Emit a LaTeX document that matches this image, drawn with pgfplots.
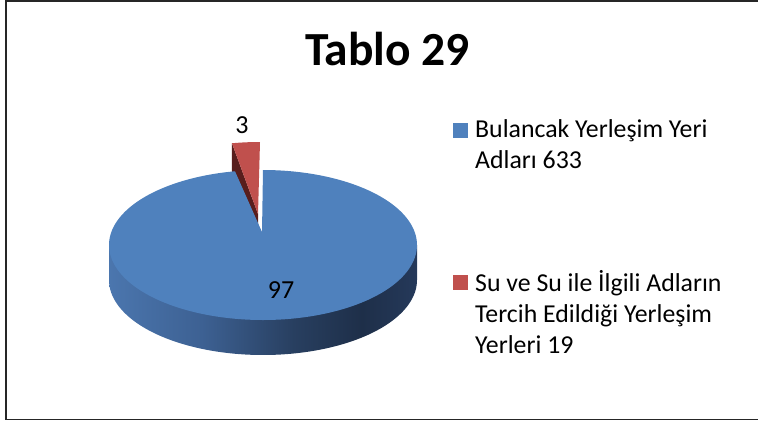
\documentclass[border=0pt]{standalone}
\usepackage{pgfplots}
\pgfplotsset{compat=1.18}
\usepackage{pgfplotstable}
\usepackage{fontspec}
\setmainfont{Carlito}
\definecolor{pieblue}{HTML}{4F81BD}
\definecolor{piered}{HTML}{C0504D}
\definecolor{redwall}{RGB}{88,30,29}
\definecolor{sA}{HTML}{4B76AE}
\definecolor{sB}{HTML}{3D6193}
\definecolor{sC}{HTML}{283F60}
\definecolor{sD}{HTML}{1E2F49}
\definecolor{sE}{HTML}{25395A}
\pgfdeclarehorizontalshading{sideshade}{100bp}{color(0bp)=(sA); color(25bp)=(sA); color(40bp)=(sB); color(55bp)=(sC); color(66bp)=(sD); color(75bp)=(sE); color(100bp)=(sE)}

\pgfplotstableread{
name value
Bulancak 633
Su 19
}\piedata

\begin{document}
\begin{tikzpicture}
\pgfplotstablegetelem{0}{value}\of\piedata \let\va\pgfplotsretval
\pgfplotstablegetelem{1}{value}\of\piedata \let\vb\pgfplotsretval
\pgfmathsetmacro\total{\va+\vb}
\pgfmathsetmacro\fa{\va/\total}
\pgfmathsetmacro\fb{\vb/\total}
\pgfmathsetmacro\redang{\fb*360}
\pgfmathsetmacro\splitang{90+\redang}
\pgfmathtruncatemacro\pa{round(100*\fa)}
\pgfmathtruncatemacro\pb{round(100*\fb)}
% red slice (exploded) geometry
\pgfmathsetmacro\ox{260+154*cos(\splitang)}
\pgfmathsetmacro\oy{217-75*sin(\splitang)}
\pgfmathsetmacro\oyb{\oy+35}
\begin{axis}[
  scale only axis, width=758pt, height=421pt,
  xmin=0, xmax=758, ymin=0, ymax=421, y dir=reverse,
  hide axis, clip=false,
]
% side of the blue slice
\addplot[forget plot, draw=none, shading=sideshade, domain=180:360, samples=150]
  ({263+154*cos(x)},{280-75*sin(x)}) -- (axis cs:417,245) -- (axis cs:109,245) -- cycle;
% red wall
\addplot[forget plot, draw=none, fill=redwall] coordinates {(258,214) (\ox,\oy) (\ox,\oyb) (258,249)} -- cycle;
% red top
\addplot[forget plot, draw=none, fill=piered, domain=90:\splitang, samples=30]
  ({260+154*cos(x)},{217-75*sin(x)}) -- (axis cs:258,214) -- cycle;
% blue top
\addplot[forget plot, draw=none, fill=pieblue, domain=\splitang:450, samples=300]
  ({263+154*cos(x)},{245-75*sin(x)}) -- (axis cs:262,232) -- cycle;
% legend squares
\addplot[forget plot, color=pieblue, only marks, mark=square*, mark size=7pt, mark options={solid, draw=pieblue, fill=pieblue, line width=0pt}] coordinates {(460.5,130)};
\addplot[forget plot, color=piered, only marks, mark=square*, mark size=7pt, mark options={solid, draw=piered, fill=piered, line width=0pt}] coordinates {(460.5,282.5)};
% texts
\node[anchor=base, font=\fontsize{47.5}{55}\selectfont\bfseries] at (axis cs:387.5,65.5) {Tablo 29};
\node[anchor=base, font=\fontsize{26}{31}\selectfont] at (axis cs:242,133) {\pb};
\node[anchor=base, font=\fontsize{26}{31}\selectfont] at (axis cs:281,298) {\pa};
\node[anchor=base west, inner sep=0pt, font=\fontsize{25.8}{31}\selectfont] at (axis cs:475,137) {Bulancak Yerleşim Yeri};
\node[anchor=base west, inner sep=0pt, font=\fontsize{25.8}{31}\selectfont] at (axis cs:475,168) {Adları 633};
\node[anchor=base west, inner sep=0pt, font=\fontsize{25.8}{31}\selectfont] at (axis cs:475,291) {Su ve Su ile İlgili Adların};
\node[anchor=base west, inner sep=0pt, font=\fontsize{25.8}{31}\selectfont] at (axis cs:475,322) {Tercih Edildiği Yerleşim};
\node[anchor=base west, inner sep=0pt, font=\fontsize{25.8}{31}\selectfont] at (axis cs:475,353) {Yerleri 19};
% frame
\draw[line width=1.6pt, black!85] (axis cs:760,0.8) -- (axis cs:6,0.8) -- (axis cs:6,419.6) -- (axis cs:760,419.6);
\end{axis}
\pgfresetboundingbox
\path (0,0) rectangle (758pt,421pt);
\end{tikzpicture}
\end{document}
